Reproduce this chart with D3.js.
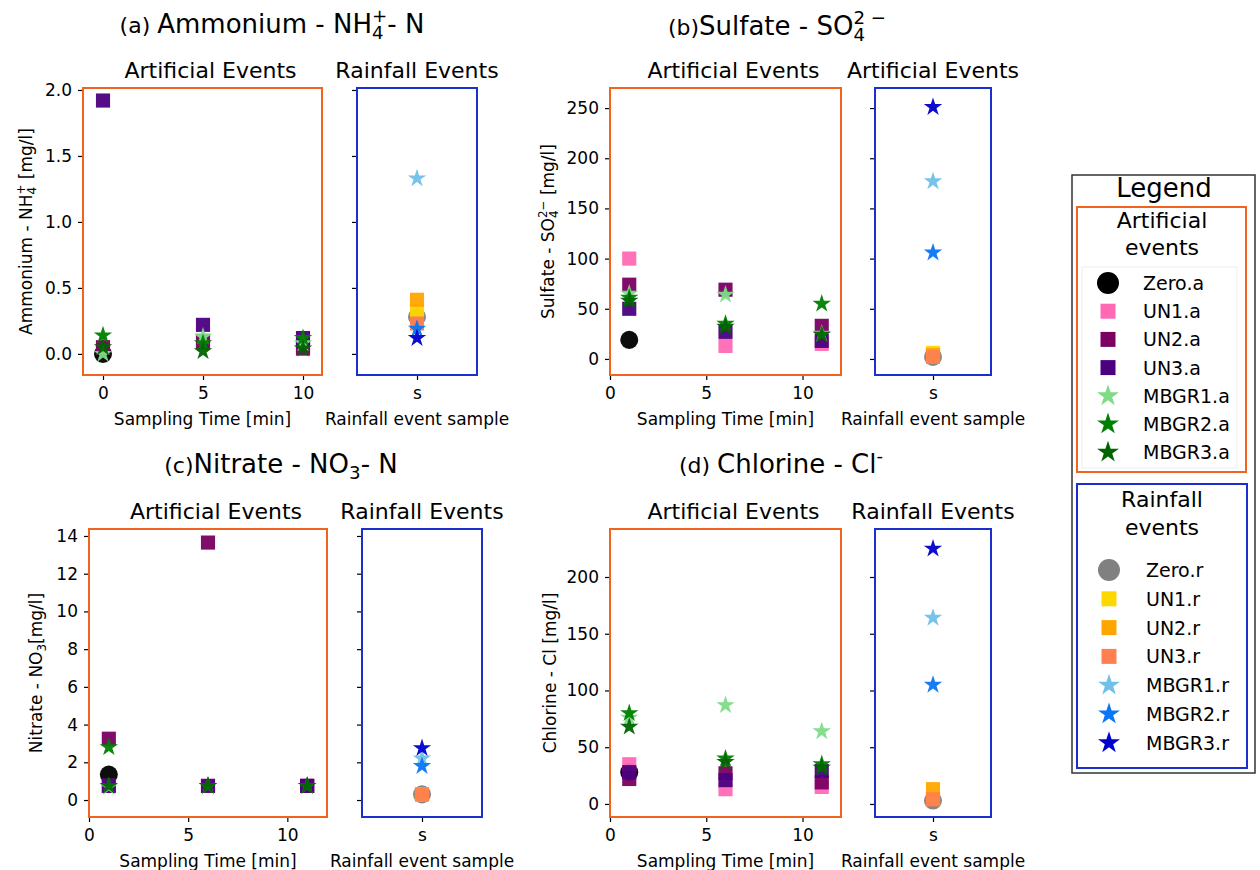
<!DOCTYPE html>
<html>
<head>
<meta charset="utf-8">
<script src="https://cdn.jsdelivr.net/npm/d3@7"></script>
<style>
  html, body { margin: 0; padding: 0; background: #fff; }
  svg { display: block; font-family: 'DejaVu Sans', sans-serif; }
</style>
</head>
<body>
<svg id="chart" width="1260" height="870"></svg>
<script>
// ---------------- DATA ----------------
const artificialNames = ["Zero.a", "UN1.a", "UN2.a", "UN3.a", "MBGR1.a", "MBGR2.a", "MBGR3.a"];
const rainfallNames   = ["Zero.r", "UN1.r", "UN2.r", "UN3.r", "MBGR1.r", "MBGR2.r", "MBGR3.r"];
const artificialColors = ["#000000", "#ff69b4", "#7a0062", "#4b0080", "#7edc88", "#008000", "#006400"];
const rainfallColors   = ["#808080", "#ffd700", "#ffa500", "#ff7f50", "#70c0e8", "#0a75f5", "#0000cd"];
const markerShapes = ["circle", "square", "square", "square", "star", "star", "star"];

const rainfallCategory = ["s"];
const timesAmmonium = [0, 5, 10];
const timesOther = [1, 6, 11];

// rows follow artificialNames order; columns follow sampling times
const ammoniumArtificial = [
  [0.00, null, null],
  [0.05, 0.10, 0.06],
  [0.05, 0.09, 0.04],
  [1.92, 0.22, 0.12],
  [0.00, 0.13, 0.08],
  [0.14, 0.08, 0.12],
  [0.05, 0.02, 0.04]
];
const ammoniumRainfall = [0.28, 0.33, 0.41, 0.23, 1.33, 0.19, 0.12];

const sulfateArtificial = [
  [19, null, null],
  [100, 13, 15],
  [74, 69, 33],
  [50, 27, 18],
  [65, 64, 25],
  [61, 35, 55],
  [58, 32, 24]
];
const sulfateRainfall = [2, 6, 4, 2, 177, 106, 251];

const nitrateArtificial = [
  [1.35, null, null],
  [0.75, 0.75, 0.75],
  [3.25, 13.65, 0.75],
  [0.75, 0.75, 0.75],
  [0.70, 0.75, 0.75],
  [2.80, 0.75, 0.75],
  [0.75, 0.75, 0.75]
];
const nitrateRainfall = [0.30, 0.30, 0.30, 0.30, 2.20, 1.80, 2.75];

const chlorineArtificial = [
  [28, null, null],
  [35, 13, 15],
  [22, 27, 19],
  [28, 21, 29],
  [76, 87, 64],
  [80, 40, 35],
  [68, 37, 32]
];
const chlorineRainfall = [3, 5, 13, 4, 164, 105, 225];

const ammoniumTicks = [0, 0.5, 1.0, 1.5, 2.0];
const sulfateTicks  = [0, 50, 100, 150, 200, 250];
const nitrateTicks  = [0, 2, 4, 6, 8, 10, 12, 14];
const chlorineTicks = [0, 50, 100, 150, 200];
const timeTicks = [0, 5, 10];

// ---------------- LAYOUT / STYLE ----------------
const ORANGE = "#f0641e";
const BLUE = "#1b2fcf";
const svg = d3.select("#chart");

const TICK_FS = 17, LABEL_FS = 17, SUB_FS = 22, TITLE_FS = 26;

function mathText(textSel, segs, fs) {
  let cur = 0, pendingDx = 0;
  function add(text, size, shift, dx) {
    const t = textSel.append("tspan").attr("font-size", size).text(text);
    const dy = shift - cur;
    if (dy) t.attr("dy", dy);
    const totalDx = (dx || 0) + pendingDx;
    if (totalDx) t.attr("dx", totalDx);
    pendingDx = 0;
    cur = shift;
    return t;
  }
  segs.forEach(seg => {
    if (typeof seg === "string") { add(seg, fs, 0); return; }
    if (seg.t !== undefined) { add(seg.t, seg.size || fs, 0); return; }
    let subLen = 0;
    if (seg.sub) {
      const t = add(seg.sub, fs * 0.7, 0.22 * fs);
      subLen = t.node().getComputedTextLength();
    }
    if (seg.sup) {
      const t = add(seg.sup, fs * 0.7, -0.42 * fs, seg.sub ? -subLen : 0);
      const supLen = t.node().getComputedTextLength();
      if (seg.sub && supLen < subLen) pendingDx = subLen - supLen;
    }
  });
  if (cur !== 0) textSel.append("tspan").attr("dy", -cur).text("");
}

function symbolFor(shape, big) {
  if (shape === "circle") return d3.symbol(d3.symbolCircle, big ? 380 : 255)();
  if (shape === "square") return d3.symbol(d3.symbolSquare, big ? 225 : 200)();
  return d3.symbol(d3.symbolStar, big ? 150 : 105)();
}

const panels = [
  { art: ammoniumArtificial, rain: ammoniumRainfall, times: timesAmmonium, xDomain: [-1, 10.95],
    yDomain: [-0.16, 2.015], yTicks: ammoniumTicks, fmt: d3.format(".1f"),
    x0: 83, x1: 322, y0: 88, y1: 375, rx0: 357, rx1: 477,
    title: [{t: "(a) ", size: 22}, "Ammonium - NH", {sub: "4", sup: "+"}, "- N"], titleX: 272, titleY: 33,
    rainTitle: "Rainfall Events",
    ylabel: ["Ammonium - NH", {sub: "4", sup: "+"}, " [mg/l]"], ylabelX: 32 },
  { art: sulfateArtificial, rain: sulfateRainfall, times: timesOther, xDomain: [0, 12],
    yDomain: [-16, 270], yTicks: sulfateTicks, fmt: d3.format("d"),
    x0: 610, x1: 841, y0: 88, y1: 375, rx0: 875, rx1: 991,
    title: [{t: "(b)", size: 22}, "Sulfate - SO", {sub: "4", sup: "2 \u2212"}], titleX: 777, titleY: 35,
    rainTitle: "Artificial Events",
    ylabel: ["Sulfate - SO", {sub: "4", sup: "2\u2212"}, " [mg/l]"], ylabelX: 554 },
  { art: nitrateArtificial, rain: nitrateRainfall, times: timesOther, xDomain: [0, 12],
    yDomain: [-0.9, 14.37], yTicks: nitrateTicks, fmt: d3.format("d"),
    x0: 89, x1: 327, y0: 529, y1: 817, rx0: 362, rx1: 482,
    title: [{t: "(c)", size: 22}, "Nitrate - NO", {sub: "3"}, "- N"], titleX: 281, titleY: 473,
    rainTitle: "Rainfall Events",
    ylabel: ["Nitrate - NO", {sub: "3"}, "[mg/l]"], ylabelX: 42 },
  { art: chlorineArtificial, rain: chlorineRainfall, times: timesOther, xDomain: [0, 12],
    yDomain: [-11.5, 242.3], yTicks: chlorineTicks, fmt: d3.format("d"),
    x0: 610, x1: 841, y0: 529, y1: 817, rx0: 875, rx1: 991,
    title: [{t: "(d) ", size: 22}, "Chlorine - Cl", {sup: "-"}], titleX: 781, titleY: 473,
    rainTitle: "Rainfall Events",
    ylabel: ["Chlorine - Cl [mg/l]"], ylabelX: 556 }
];

function styleAxis(g) {
  g.attr("font-family", "'DejaVu Sans', sans-serif").attr("font-size", TICK_FS);
  g.select(".domain").remove();
  g.selectAll(".tick line").attr("stroke", "#000").attr("stroke-width", 1.2);
  g.selectAll(".tick text").attr("fill", "#000");
}

panels.forEach(p => {
  const y = d3.scaleLinear().domain(p.yDomain).range([p.y1, p.y0]);
  const x = d3.scaleLinear().domain(p.xDomain).range([p.x0, p.x1]);
  const xr = d3.scalePoint().domain(rainfallCategory).range([p.rx0, p.rx1]).padding(0.5);

  // main title
  const tt = svg.append("text").attr("x", p.titleX).attr("y", p.titleY)
    .attr("text-anchor", "middle").attr("fill", "#000");
  mathText(tt, p.title, TITLE_FS);

  // subplot titles
  const subY = p.y0 - 10;
  svg.append("text").attr("x", (p.x0 + p.x1) / 2 + 8).attr("y", subY)
    .attr("text-anchor", "middle").attr("font-size", SUB_FS).text("Artificial Events");
  svg.append("text").attr("x", (p.rx0 + p.rx1) / 2).attr("y", subY)
    .attr("text-anchor", "middle").attr("font-size", SUB_FS).text(p.rainTitle);

  // axes - artificial
  svg.append("g").attr("transform", `translate(${p.x0},0)`)
    .call(d3.axisLeft(y).tickValues(p.yTicks).tickFormat(p.fmt).tickSize(5).tickPadding(6))
    .call(styleAxis);
  svg.append("g").attr("transform", `translate(0,${p.y1})`)
    .call(d3.axisBottom(x).tickValues(timeTicks).tickFormat(d3.format("d")).tickSize(5).tickPadding(7))
    .call(styleAxis);
  // axes - rainfall
  svg.append("g").attr("transform", `translate(${p.rx0},0)`)
    .call(d3.axisLeft(y).tickValues(p.yTicks).tickFormat("").tickSize(5))
    .call(styleAxis);
  svg.append("g").attr("transform", `translate(0,${p.y1})`)
    .call(d3.axisBottom(xr).tickSize(5).tickPadding(7))
    .call(styleAxis);

  // axis labels
  svg.append("text").attr("x", (p.x0 + p.x1) / 2).attr("y", p.y1 + 50)
    .attr("text-anchor", "middle").attr("font-size", LABEL_FS).text("Sampling Time [min]");
  svg.append("text").attr("x", (p.rx0 + p.rx1) / 2).attr("y", p.y1 + 50)
    .attr("text-anchor", "middle").attr("font-size", LABEL_FS).text("Rainfall event sample");
  const yl = svg.append("text")
    .attr("transform", `translate(${p.ylabelX},${(p.y0 + p.y1) / 2}) rotate(-90)`)
    .attr("text-anchor", "middle");
  mathText(yl, p.ylabel, LABEL_FS);

  // markers - artificial
  const ga = svg.append("g");
  p.art.forEach((row, i) => {
    row.forEach((v, j) => {
      if (v === null) return;
      ga.append("path").attr("d", symbolFor(markerShapes[i], false))
        .attr("transform", `translate(${x(p.times[j])},${y(v)})`)
        .attr("fill", artificialColors[i]).attr("fill-opacity", 0.95);
    });
  });
  // markers - rainfall
  const gr = svg.append("g");
  p.rain.forEach((v, i) => {
    gr.append("path").attr("d", symbolFor(markerShapes[i], false))
      .attr("transform", `translate(${xr("s")},${y(v)})`)
      .attr("fill", rainfallColors[i]).attr("fill-opacity", 0.95);
  });

  // frames
  svg.append("rect").attr("x", p.x0).attr("y", p.y0).attr("width", p.x1 - p.x0).attr("height", p.y1 - p.y0)
    .attr("fill", "none").attr("stroke", ORANGE).attr("stroke-width", 2);
  svg.append("rect").attr("x", p.rx0).attr("y", p.y0).attr("width", p.rx1 - p.rx0).attr("height", p.y1 - p.y0)
    .attr("fill", "none").attr("stroke", BLUE).attr("stroke-width", 2);
});

// ---------------- LEGEND ----------------
const lg = svg.append("g");
lg.append("rect").attr("x", 1072).attr("y", 175).attr("width", 183).attr("height", 598)
  .attr("fill", "#fff").attr("stroke", "#333").attr("stroke-width", 1.5);
lg.append("text").attr("x", 1164).attr("y", 197).attr("text-anchor", "middle")
  .attr("font-size", 26).text("Legend");

lg.append("rect").attr("x", 1077).attr("y", 207).attr("width", 169).attr("height", 265)
  .attr("fill", "none").attr("stroke", ORANGE).attr("stroke-width", 2);
lg.append("rect").attr("x", 1082).attr("y", 267).attr("width", 155).attr("height", 201)
  .attr("fill", "none").attr("stroke", "#eeeeee").attr("stroke-width", 1);
lg.append("text").attr("x", 1162).attr("y", 228).attr("text-anchor", "middle").attr("font-size", 22).text("Artificial");
lg.append("text").attr("x", 1162).attr("y", 255).attr("text-anchor", "middle").attr("font-size", 22).text("events");
artificialNames.forEach((n, i) => {
  const cy = 283 + i * 28.2;
  lg.append("path").attr("d", symbolFor(markerShapes[i], true))
    .attr("transform", `translate(1108,${cy})`).attr("fill", artificialColors[i]);
  lg.append("text").attr("x", 1143).attr("y", cy + 7).attr("font-size", 19).text(n);
});

lg.append("rect").attr("x", 1077).attr("y", 484).attr("width", 170).attr("height", 284)
  .attr("fill", "none").attr("stroke", BLUE).attr("stroke-width", 2);
lg.append("text").attr("x", 1162).attr("y", 507).attr("text-anchor", "middle").attr("font-size", 22).text("Rainfall");
lg.append("text").attr("x", 1162).attr("y", 535).attr("text-anchor", "middle").attr("font-size", 22).text("events");
rainfallNames.forEach((n, i) => {
  const cy = 570 + i * 28.8;
  lg.append("path").attr("d", symbolFor(markerShapes[i], true))
    .attr("transform", `translate(1109,${cy})`).attr("fill", rainfallColors[i]);
  lg.append("text").attr("x", 1146).attr("y", cy + 7).attr("font-size", 19).text(n);
});
</script>
</body>
</html>
